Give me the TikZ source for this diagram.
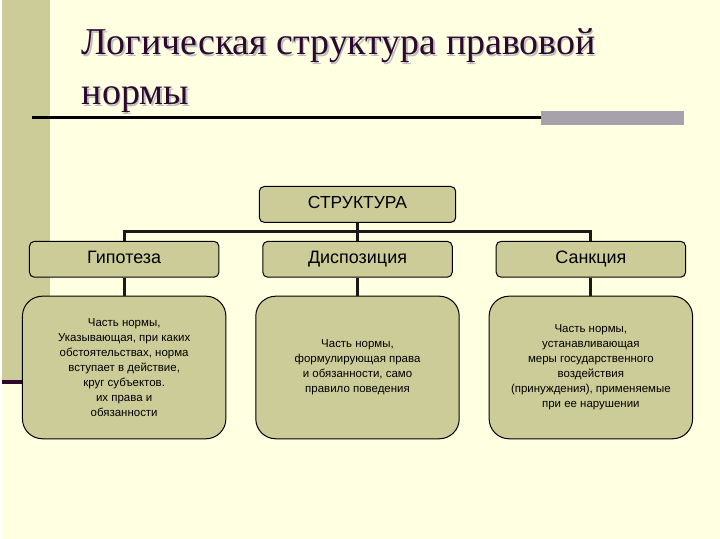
\documentclass[tikz,border=0pt]{standalone}
\usepackage{fontspec}
\setmainfont{Liberation Serif}
\setsansfont{Liberation Sans}
\usepackage{tikz}
\usetikzlibrary{positioning, calc}
\definecolor{cream}{RGB}{255,255,225}
\definecolor{olive}{RGB}{204,204,153}
\definecolor{bargray}{RGB}{165,162,172}
\definecolor{plum}{RGB}{45,10,45}

\begin{document}
\begin{tikzpicture}[x=1pt, y=-1pt,
      head/.style={rectangle, draw=black, line width=1pt, fill=olive, rounded corners=5pt,
        minimum width=197pt, minimum height=36pt, inner sep=0pt, text height=12.5pt, text depth=3.5pt,
        font=\sffamily\fontsize{17.5}{19}\selectfont},
      part/.style={head, minimum width=190pt, font=\sffamily\fontsize{18}{20}\selectfont},
      note/.style={rectangle, draw=black, line width=1pt, fill=olive, rounded corners=20pt,
        minimum width=204pt, minimum height=143pt, inner sep=0pt, align=center,
        font=\sffamily\fontsize{11.5}{15}\selectfont},
      conn/.style={line width=3pt, draw=black!90},
      ttl/.style={anchor=base west, inner sep=0pt, font=\rmfamily\fontsize{38}{40}\selectfont},
    ]
    % background and template decoration
    \fill[cream] (0,0) rectangle (720,540);
    \fill[olive] (0,0) rectangle (48,381);
    \draw[line width=4pt, plum] (0,383) -- (30,383);
    \draw[line width=3pt, black] (30,118) -- (540,118);
    \fill[bargray] (540,111) rectangle (684,125);
    % title with shadow
    \node[ttl, black!25] at (81.5,56.5) {Логическая структура правовой};
    \node[ttl, black!25] at (81.5,106.5) {нормы};
    \node[ttl, plum] (t1) at (80,55) {Логическая структура правовой};
    \node[ttl, plum] (t2) at (80,105) {нормы};
    % tree
    \node[head] (struct) at (356.5,205) {СТРУКТУРА};
    \node[part, below=18pt of struct] (disp) {Диспозиция};
    \node[part, left=43pt of disp] (gip) {Гипотеза};
    \node[part, right=43pt of disp] (sanc) {Санкция};
    \node[note, below=18pt of gip] (gipn) {Часть нормы,\\Указывающая, при каких\\обстоятельствах, норма\\вступает в действие,\\круг субъектов.\\их права и\\обязанности};
    \node[note, below=18pt of disp] (dispn) {Часть нормы,\\формулирующая права\\и обязанности, само\\правило поведения};
    \node[note, below=18pt of sanc] (sancn) {Часть нормы,\\устанавливающая\\меры государственного\\воздействия\\(принуждения), применяемые\\при ее нарушении};
    \coordinate (bus) at ($(struct.south)!0.5!(disp.north)$);
    \draw[conn] (struct) -- (disp);
    \draw[conn] (gip.north) |- (bus) -| (sanc.north);
    \draw[conn] (gip) -- (gipn); \draw[conn] (disp) -- (dispn);
    \draw[conn] (sanc) -- (sancn);
  \end{tikzpicture}
\end{document}
